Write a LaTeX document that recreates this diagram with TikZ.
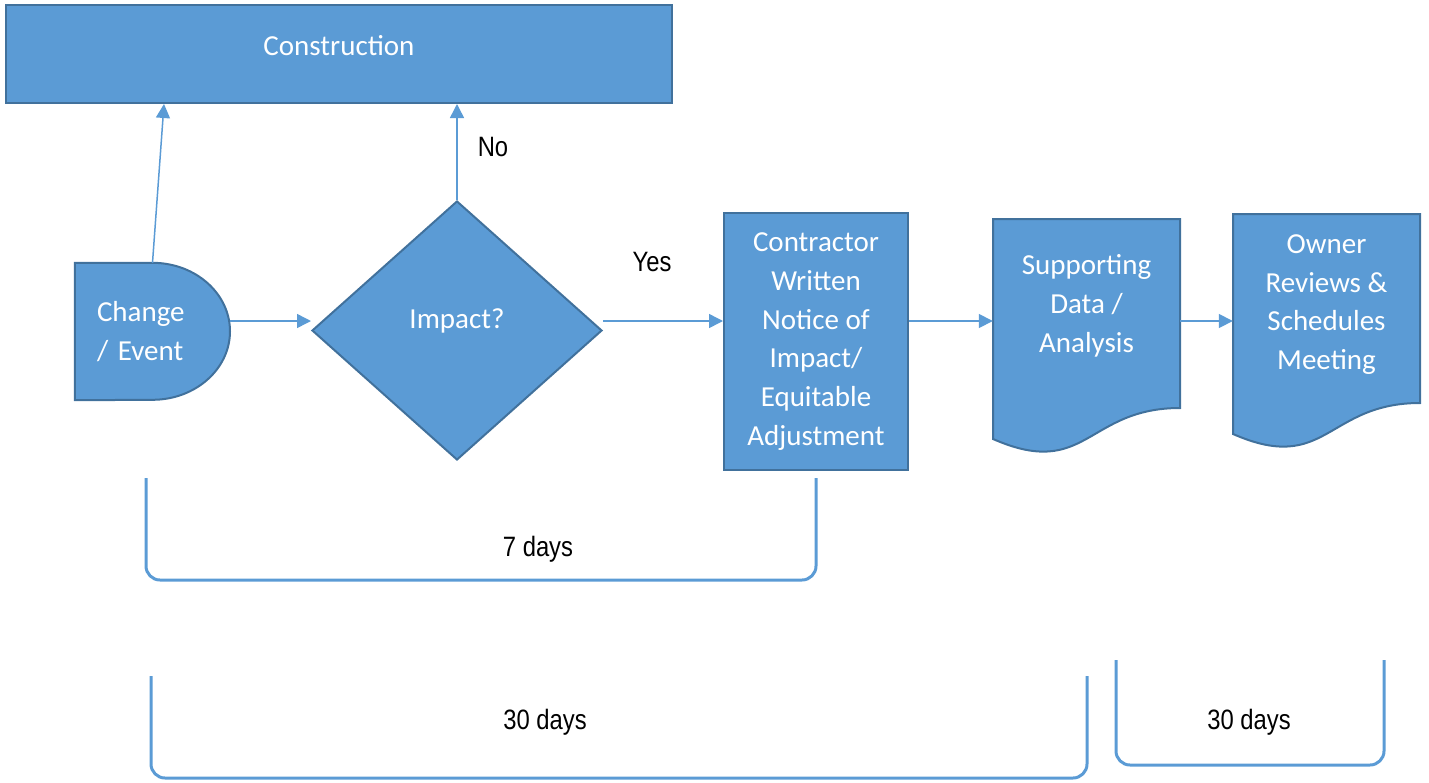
\documentclass[tikz,border=0pt]{standalone}
\usepackage{fontspec}
\setmainfont{Carlito}
\newfontfamily\labelfont[FakeStretch=0.85]{Liberation Sans}
\usepackage{xcolor}
\usepackage{tikz}
\usetikzlibrary{shapes.geometric,arrows.meta,backgrounds}
\definecolor{flowblue}{RGB}{91,155,213}
\definecolor{flowedge}{RGB}{65,113,156}

\tikzset{
  flowshape/.style={draw=flowedge, fill=flowblue, line width=2pt},
  flowtext/.style={text=white, align=center, inner sep=0pt, font=\fontsize{29}{38.7}\selectfont},
  flowbox/.style={flowshape, flowtext},
  flowarrow/.style={draw=flowblue, line width=1.5pt, -{Triangle[length=14pt,width=14pt]}},
  brace/.style={draw=flowblue, line width=3pt, rounded corners=14pt},
  daylabel/.style={font=\labelfont\fontsize{28}{32}\selectfont}
}

\begin{document}
\begin{tikzpicture}[x=1pt,y=-1pt]
\useasboundingbox (0,0) rectangle (1429,782);

% process boxes
\node[flowbox, minimum width=666, minimum height=98, text depth=18pt] (cons) at (339,54) {Construction};
\node[flowtext, align=left, text width=111pt, minimum width=155, minimum height=137] (chg) at (152.5,331.5) {Change\\/ Event};
\node[flowbox, diamond, minimum width=290, minimum height=259, text depth=24pt] (imp) at (457,330.5) {Impact?};
\node[flowbox, minimum width=184, minimum height=257] (contr) at (816,341.5) {Contractor\\Written\\Notice of\\Impact/\\Equitable\\Adjustment};
\node[flowtext, minimum width=187] (supp) at (1086.5,306) {Supporting\\Data /\\Analysis};
\node[flowtext, minimum width=187] (owner) at (1326.5,304.5) {Owner\\Reviews \&\\Schedules\\Meeting};

% delay and document outlines behind the text
\begin{scope}[on background layer]
\draw[flowshape] (chg.north west) -- (chg.north) arc[start angle=-90, end angle=90, x radius=77.5, y radius=68.5] -- (chg.south west) -- cycle;
\foreach \l/\t in {993/219,1233/214}
  \draw[flowshape] (\l,\t) -- (\l+187,\t) -- (\l+187,\t+189) .. controls (\l+93.5,\t+189) and (\l+93.5,\t+261) .. (\l,\t+220) -- cycle;
\end{scope}

% arrows
\coordinate (row) at (0,321);
\draw[flowarrow] (chg.north) -- ([xshift=159pt]cons.south west);
\draw[flowarrow] (imp.north) -- (imp.north |- cons.south);
\draw[flowarrow] (chg.east |- row) -- (imp.west |- row);
\draw[flowarrow] (imp.east |- row) -- (contr.west |- row);
\draw[flowarrow] (contr.east |- row) -- (supp.west |- row);
\draw[flowarrow] (supp.east |- row) -- (owner.west |- row);
\node[daylabel] (no) at (493,147) {No};
\node[daylabel] (yes) at (652,262) {Yes};

% time spans
\coordinate (notice l) at (146,478);
\coordinate (notice r) at (816,478);
\coordinate (data l) at (151,676);
\coordinate (data r) at (1087,676);
\coordinate (review l) at (1116,660);
\coordinate (review r) at (1384,660);
\draw[brace] (notice l) |- (notice r |- 0,580) -- (notice r);
\draw[brace] (data l) |- (data r |- 0,778) -- (data r);
\draw[brace] (review l) |- (review r |- 0,765) -- (review r);
\node[daylabel] (days7) at (538,549) {7 days};
\node[daylabel] (days30a) at (545,722) {30 days};
\node[daylabel] (days30b) at (1249,722) {30 days};
\end{tikzpicture}
\end{document}
